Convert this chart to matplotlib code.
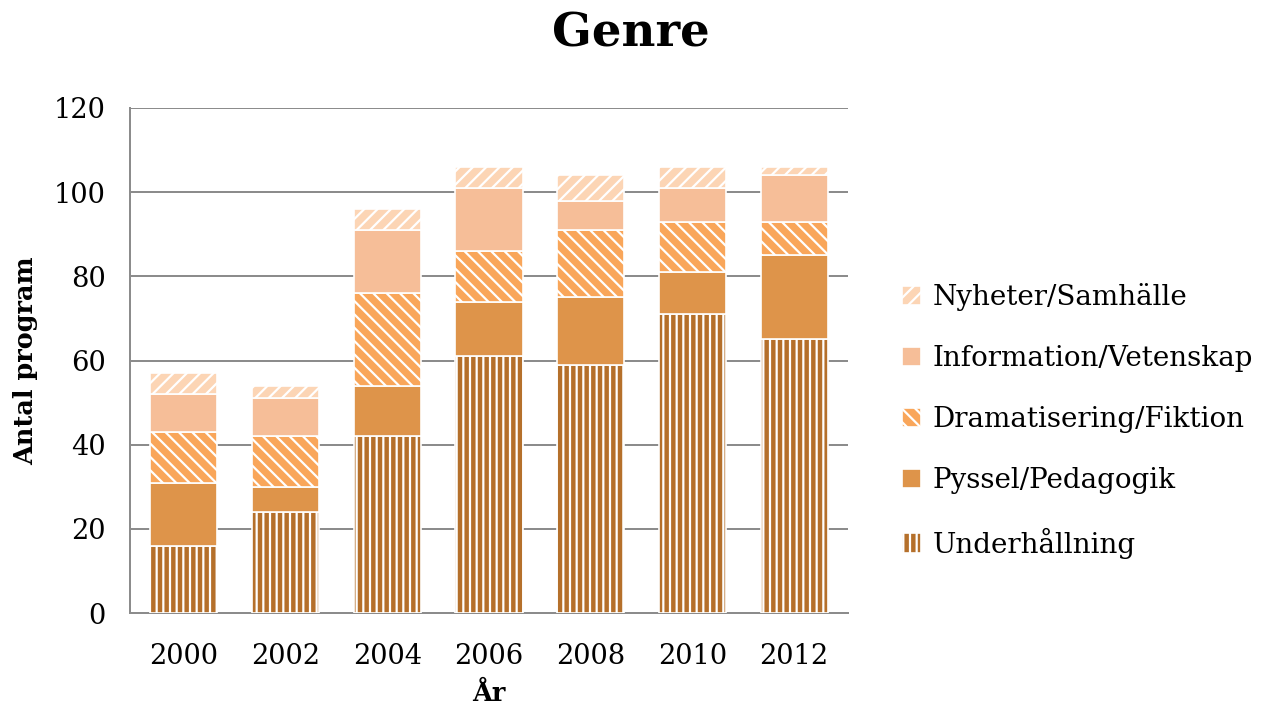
import numpy as np
import matplotlib
matplotlib.use("Agg")
import matplotlib.pyplot as plt

years = ["2000", "2002", "2004", "2006", "2008", "2010", "2012"]
underhallning = [16, 24, 42, 61, 59, 71, 65]
pyssel = [15, 6, 12, 13, 16, 10, 20]
dramatisering = [12, 12, 22, 12, 16, 12, 8]
information = [9, 9, 15, 15, 7, 8, 11]
nyheter = [5, 3, 5, 5, 6, 5, 2]

series = [
    ("Underhållning", underhallning, "#b5702b", "||"),
    ("Pyssel/Pedagogik", pyssel, "#de944a", None),
    ("Dramatisering/Fiktion", dramatisering, "#f9a65a", "\\\\"),
    ("Information/Vetenskap", information, "#f6be98", None),
    ("Nyheter/Samhälle", nyheter, "#fcd5b5", "//"),
]

plt.rcParams['font.family'] = ['DejaVu Serif']
plt.rcParams['hatch.linewidth'] = 2.0

fig = plt.figure(figsize=(1262 / 80, 722 / 80), dpi=80)
ax = fig.add_axes([130 / 1262, 1 - 613 / 722, 718 / 1262, 505 / 722])

x = np.arange(len(years))
bottom = np.zeros(len(years))
for name, vals, color, hatch in series:
    ax.bar(x, vals, 0.66, bottom=bottom, color=color, edgecolor="white",
           linewidth=1.5, hatch=hatch, label=name, zorder=3)
    bottom += np.array(vals)

ax.set_xlim(-0.53, 6.53)
ax.set_ylim(0, 120)
ax.set_yticks(range(0, 121, 20))
ax.set_xticks(x)
ax.set_xticklabels(years)
ax.yaxis.grid(True, color="#8c8c8c", linewidth=1.8, zorder=0)
ax.set_axisbelow(True)
for s in ["top", "right"]:
    ax.spines[s].set_visible(False)
for s in ["left", "bottom"]:
    ax.spines[s].set_color("#8c8c8c")
    ax.spines[s].set_linewidth(1.8)
ax.tick_params(length=0, labelsize=24.5)
ax.tick_params(axis="x", pad=27)
ax.tick_params(axis="y", pad=22)

ax.set_ylabel("Antal program", fontsize=23, fontweight="bold", labelpad=14)
ax.set_xlabel("År", fontsize=23, fontweight="bold", labelpad=10)
fig.suptitle("Genre", fontsize=42, fontweight="bold", y=0.985)

handles, labels = ax.get_legend_handles_labels()
ax.legend(handles[::-1], labels[::-1], loc="center left", bbox_to_anchor=(1.04, 0.38),
          frameon=False, fontsize=25, handlelength=0.7, handleheight=0.7,
          labelspacing=1.22, handletextpad=0.4)

fig.savefig("out.png", dpi=80)
